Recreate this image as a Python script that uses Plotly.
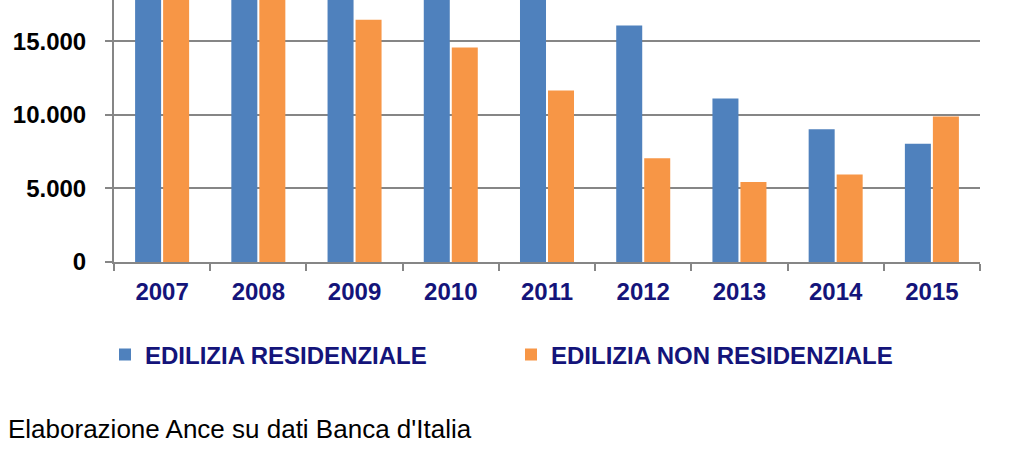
import plotly.graph_objects as go

years = ["2007", "2008", "2009", "2010", "2011", "2012", "2013", "2014", "2015"]
residenziale = [31400, 28900, 24500, 23500, 19800, 16070, 11110, 9020, 8030]
non_residenziale = [21700, 20200, 16460, 14580, 11650, 7050, 5440, 5940, 9890]
series_names = ["EDILIZIA RESIDENZIALE", "EDILIZIA NON RESIDENZIALE"]
y_ticks = [0, 5000, 10000, 15000]
source_text = "Elaborazione Ance su dati Banca d'Italia"

BLUE = "#4F81BD"
ORANGE = "#F79646"
NAVY = "#14147A"
GRID = "#868686"
FONT = "Liberation Sans"

fig = go.Figure()
fig.add_trace(go.Bar(x=years, y=residenziale, name=series_names[0],
                     marker=dict(color=BLUE, line=dict(width=0))))
fig.add_trace(go.Bar(x=years, y=non_residenziale, name=series_names[1],
                     marker=dict(color=ORANGE, line=dict(width=0))))

fig.update_layout(
    width=1024, height=452,
    margin=dict(l=114, r=44, t=0, b=190),
    paper_bgcolor="white", plot_bgcolor="white",
    barmode="group", bargap=0.418, bargroupgap=0.071,
    separators=",.",
    showlegend=True,
    legend=dict(orientation="h", xref="container", yref="container",
                y=1 - 355 / 452, yanchor="middle",
                x=105 / 1024, xanchor="left", entrywidth=361, entrywidthmode="pixels",
                font=dict(family=FONT, size=24, color=NAVY, weight="bold"),
                bgcolor="rgba(0,0,0,0)"),
    annotations=[dict(text=source_text, xref="paper", yref="paper",
                      x=(6 - 114) / 866, y=(262 - 429) / 262,
                      xanchor="left", yanchor="middle", showarrow=False,
                      font=dict(family=FONT, size=26, color="black"))],
)

fig.update_xaxes(
    type="category", showline=True, linecolor=GRID, linewidth=2,
    ticks="outside", tickson="boundaries", ticklen=7, tickcolor=GRID, tickwidth=2,
    tickfont=dict(family=FONT, size=24, color=NAVY, weight="bold"),
    ticklabelstandoff=7, showgrid=False,
)
fig.update_yaxes(
    range=[0, 17807], tickvals=y_ticks, tickformat=",d",
    showline=True, linecolor=GRID, linewidth=2,
    ticks="outside", ticklen=7, tickcolor=GRID, tickwidth=2,
    showgrid=True, gridcolor=GRID, gridwidth=2, zeroline=False,
    tickfont=dict(family=FONT, size=24, color="black", weight="bold"),
    ticklabelstandoff=14,
)

fig.write_html("out.html")
